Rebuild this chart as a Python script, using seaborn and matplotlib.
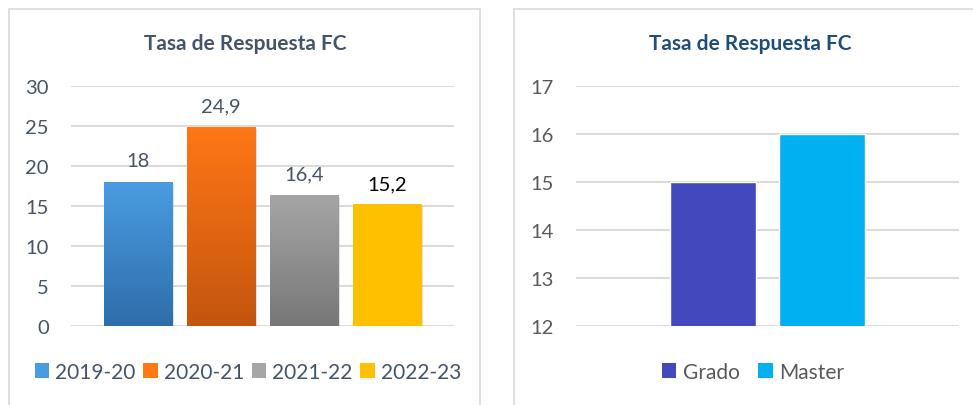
import numpy as np
import pandas as pd
import matplotlib
matplotlib.use("Agg")
import matplotlib.pyplot as plt
import matplotlib.patheffects as pe
from matplotlib.colors import LinearSegmentedColormap
from matplotlib.patches import Patch, Rectangle
import seaborn as sns

# data
years = ["2019-20", "2020-21", "2021-22", "2022-23"]
rates_year = [18, 24.9, 16.4, 15.2]
levels = ["Grado", "Master"]
rates_level = [15, 16]

# colours (top, bottom of gradient)
year_grad = [("#4A9CE2", "#2E6DAA"), ("#FF7716", "#C4550F"),
             ("#A6A6A6", "#777777"), ("#FFC000", "#FFC000")]
level_colors = ["#4349BC", "#00B0F0"]

sns.set_style("white")
plt.rcParams["font.family"] = ["Lato", "DejaVu Sans"]

fig = plt.figure(figsize=(9.73, 4.06), dpi=100)
W, H = 973, 406

def fx(px):
    return px / W

def fy(py):
    return 1 - py / H

# panel borders
for x0, x1 in [(9, 480), (514, 990)]:
    fig.patches.append(Rectangle((fx(x0), fy(420)), fx(x1 - x0), (420 - 10) / H,
                                 transform=fig.transFigure, fill=False,
                                 edgecolor="#D9D9D9", lw=1.2))

def style_axes(ax, ticks, color):
    ax.set_yticks(ticks)
    ax.grid(axis="y", color="#D9D9D9", lw=1.4)
    ax.set_axisbelow(True)
    sns.despine(ax=ax, left=True, bottom=True)
    ax.set_xticks([])
    ax.set_xlabel("")
    ax.set_ylabel("")
    ax.tick_params(axis="y", length=0, pad=16, labelsize=14.5, labelcolor=color)

# ---- left chart ----
ax1 = fig.add_axes([fx(71), fy(327), fx(454 - 71), (327 - 87) / H])
df1 = pd.DataFrame({"year": years, "rate": rates_year})
sns.barplot(data=df1, x="year", y="rate", hue="year", palette=[c[0] for c in year_grad],
            width=0.82, saturation=1, legend=False, ax=ax1)
style_axes(ax1, range(0, 31, 5), "#44546A")

for patch, (top, bot) in zip(ax1.patches, year_grad):
    x, y = patch.get_x(), patch.get_y()
    w, h = patch.get_width(), patch.get_height()
    cmap = LinearSegmentedColormap.from_list("g", [bot, top])
    grad = np.linspace(0, 1, 256).reshape(-1, 1)
    im = ax1.imshow(grad, extent=[x, x + w, y, y + h], aspect="auto", cmap=cmap,
                    origin="lower", zorder=patch.get_zorder() + 0.1)
    im.set_clip_path(patch)
    patch.set_path_effects([pe.SimplePatchShadow(offset=(1.5, -1.5), shadow_rgbFace="#999999",
                                                 alpha=0.35), pe.Normal()])
ax1.set_xlim(-0.807, 3.807)
ax1.set_ylim(0, 30)

label_colors = ["#44546A", "#44546A", "#44546A", "#000000"]
for patch, v, c in zip(ax1.patches, rates_year, label_colors):
    ax1.annotate(f"{v:g}".replace(".", ","), (patch.get_x() + patch.get_width() / 2, patch.get_height()),
                 xytext=(0, 9), textcoords="offset points", ha="center", va="bottom",
                 fontsize=14.5, color=c)

fig.text(fx(245), fy(44), "Tasa de Respuesta FC", ha="center", va="center",
         fontsize=15, fontweight="bold", color="#44546A")
h1 = [Patch(facecolor=c[0], edgecolor="none") for c in year_grad]
fig.legend(h1, years, loc="center", bbox_to_anchor=(fx(248), fy(373)), ncol=4, frameon=False,
           fontsize=15, labelcolor="#44546A", handlelength=0.7, handleheight=0.7,
           handletextpad=0.3, columnspacing=0.35)

# ---- right chart ----
ax2 = fig.add_axes([fx(576), fy(327), fx(959 - 576), (327 - 87) / H])
df2 = pd.DataFrame({"level": levels, "rate": rates_level})
sns.barplot(data=df2, x="level", y="rate", hue="level", palette=level_colors,
            width=0.79, saturation=1, legend=False, ax=ax2)
ax2.set_xlim(-1.257, 2.257)
ax2.set_ylim(12, 17)
style_axes(ax2, range(12, 18), "#595959")

fig.text(fx(750), fy(44), "Tasa de Respuesta FC", ha="center", va="center",
         fontsize=15, fontweight="bold", color="#1F4E79")
h2 = [Patch(facecolor=c, edgecolor="none") for c in level_colors]
fig.legend(h2, levels, loc="center", bbox_to_anchor=(fx(753), fy(373)), ncol=2, frameon=False,
           fontsize=15, labelcolor="#595959", handlelength=0.7, handleheight=0.7,
           handletextpad=0.3, columnspacing=0.9)

fig.savefig("out.png", dpi=100)
